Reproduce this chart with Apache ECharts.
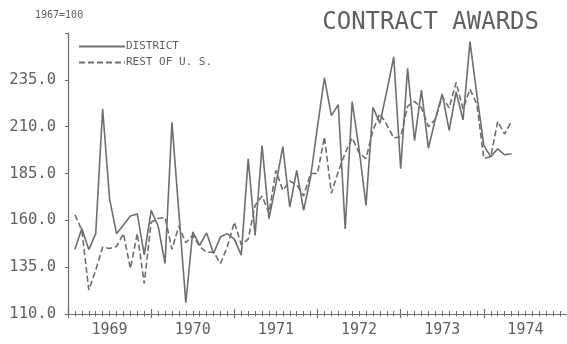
<!DOCTYPE html>
<html>
<head>
<meta charset="utf-8">
<script src="https://cdn.jsdelivr.net/npm/echarts@6/dist/echarts.min.js"></script>
<style>
html,body{margin:0;padding:0;background:#fff;}
#chart{width:567px;height:344px;}
</style>
</head>
<body>
<div id="chart"></div>
<script>
// Month index counted from January 1969 (0) ; data run from Feb 1969 to May 1974
const firstMonth = 1;
const yearLabels = ['1969', '1970', '1971', '1972', '1973', '1974'];
const seriesNames = ['DISTRICT', 'REST OF U. S.'];
const district = [
  144.6, 155.6, 144.4, 152.9, 219.4, 171.5, 152.9, 157.5, 162.3, 163.4, 141.5, 165.3,
  157.0, 137.0, 212.3, 164.0, 116.0, 153.8, 146.7, 153.3, 142.3, 151.2, 152.9, 150.0,
  141.4, 192.8, 152.0, 199.9, 160.9, 179.5, 199.4, 167.1, 186.6, 165.3, 183.0, 210.0,
  236.0, 215.9, 221.7, 155.4, 223.4, 198.0, 168.0, 220.3, 211.8, 229.0, 247.3, 187.5,
  241.2, 202.6, 229.5, 198.5, 214.0, 227.4, 208.0, 228.5, 213.6, 255.4, 227.0, 199.9,
  194.0, 198.2, 195.0, 195.5
];
const restOfUS = [
  163.0, 154.7, 122.8, 133.4, 145.8, 145.0, 146.0, 152.9, 134.3, 153.0, 126.3, 159.0,
  161.0, 161.5, 144.5, 157.0, 148.0, 152.0, 146.0, 143.0, 143.0, 137.0, 146.0, 159.0,
  147.0, 150.0, 168.0, 173.0, 164.0, 186.6, 176.0, 181.0, 179.0, 173.0, 185.0, 185.0,
  204.5, 174.5, 186.0, 196.0, 204.0, 196.0, 193.0, 208.0, 217.0, 211.0, 204.0, 204.5,
  221.0, 223.5, 220.0, 210.0, 214.0, 226.0, 220.0, 233.6, 219.4, 230.0, 222.0, 193.0,
  194.0, 212.8, 206.0, 213.0
];
const yTicks = [110, 135, 160, 185, 210, 235];

const gray = '#6e6e6e';
const textGray = '#606060';
const mono = 'DejaVu Sans Mono';
const toPairs = arr => arr.map((v, i) => [firstMonth + i, v]);

const chart = echarts.init(document.getElementById('chart'), null, {renderer: 'canvas'});
chart.setOption({
  animation: false,
  backgroundColor: '#fff',
  title: [
    {text: 'CONTRACT AWARDS', right: 23, top: 6,
     textStyle: {fontFamily: mono, fontSize: 24, fontWeight: 'normal', color: textGray}},
    {text: '1967=100', left: 30, top: 5,
     textStyle: {fontFamily: mono, fontSize: 10, fontWeight: 'normal', color: textGray}}
  ],
  legend: {
    orient: 'vertical', left: 73, top: 36, itemWidth: 46, itemHeight: 10, itemGap: 5,
    itemStyle: {color: 'rgba(0,0,0,0)', borderWidth: 0},
    textStyle: {fontFamily: mono, fontSize: 11, color: textGray, padding: [0, 0, 0, -4]},
    data: seriesNames
  },
  grid: {left: 68, right: 0, top: 33, bottom: 30, containLabel: false},
  xAxis: [
    {type: 'value', min: 0, max: 72, interval: 12, position: 'bottom',
     axisLine: {show: true, lineStyle: {color: gray, width: 1.2}},
     axisTick: {show: true, inside: false, length: 4, lineStyle: {color: gray, width: 1.2}},
     minorTick: {show: true, splitNumber: 12, length: 2.5, lineStyle: {color: gray, width: 1}},
     axisLabel: {show: false}, splitLine: {show: false}},
    {type: 'value', min: 0, max: 72, interval: 12, position: 'bottom',
     axisLine: {show: false},
     axisTick: {show: true, inside: true, length: 5, lineStyle: {color: gray, width: 1.2}},
     minorTick: {show: true, splitNumber: 12, length: 3, lineStyle: {color: gray, width: 1}},
     axisLabel: {show: false}, splitLine: {show: false}},
    {type: 'category', data: yearLabels, position: 'bottom', boundaryGap: true,
     axisLine: {show: false}, axisTick: {show: false},
     axisLabel: {fontFamily: mono, fontSize: 15, color: textGray, margin: 9}}
  ],
  yAxis: {
    type: 'value', min: 110, max: 260, interval: 25,
    axisLine: {show: true, lineStyle: {color: gray, width: 1.2}},
    axisTick: {show: true, inside: false, length: 3, lineStyle: {color: gray}},
    splitLine: {show: false},
    axisLabel: {fontFamily: mono, fontSize: 15.5, color: textGray, margin: 12,
      padding: [0, 0, 5, 0],
      formatter: v => (yTicks.indexOf(v) >= 0 ? v.toFixed(1) : '')}
  },
  series: [
    {name: seriesNames[0], type: 'line', xAxisIndex: 0, data: toPairs(district),
     symbol: 'none', lineStyle: {color: gray, width: 1.6}, itemStyle: {color: gray}},
    {name: seriesNames[1], type: 'line', xAxisIndex: 0, data: toPairs(restOfUS),
     symbol: 'none', lineStyle: {color: gray, width: 1.6, type: [6, 3]}, itemStyle: {color: gray}}
  ]
});
</script>
</body>
</html>
